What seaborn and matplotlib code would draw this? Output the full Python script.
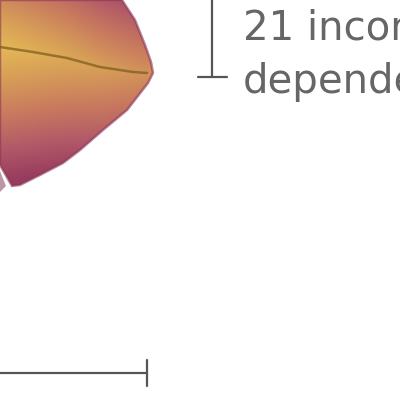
import numpy as np
import seaborn as sns
import matplotlib.pyplot as plt
from matplotlib.colors import LinearSegmentedColormap
from matplotlib.patches import Polygon

# outline of the visible piece of the shape (pixel coordinates, y downwards)
outline_x = [0, 122, 135, 145, 151, 153, 148, 127, 103, 80, 63, 40, 20, 12, 0]
outline_y = [0, 0, 20, 45, 62, 73, 83, 110, 130, 150, 163, 175, 185, 186, 165]
# small sliver left of the white gap
sliver_x = [0, 6, 0]
sliver_y = [171, 186, 192]
# crease running across the shape
crease_x = [0, 33, 67, 100, 133, 147]
crease_y = [47, 52, 58, 67, 72, 73]
# bracket on the right and scale bar at the bottom
bracket_x = [212, 212]
bracket_y = [0, 77]
bracket_foot_x = [198, 227]
bracket_foot_y = [77, 77]
scale_x = [0, 147]
scale_y = [373, 373]
scale_cap_x = [147, 147]
scale_cap_y = [360, 386]
label_lines = ["21 incoming", "dependencies"]
label_baselines = [40, 93]

sns.set_theme(style="white")
fig = plt.figure(figsize=(4, 4), dpi=100)
ax = fig.add_axes([0, 0, 1, 1])
ax.set_xlim(0, 400)
ax.set_ylim(400, 0)
ax.axis("off")

cmap = LinearSegmentedColormap.from_list(
    "skin", ["#973c5e", "#b25a68", "#c97a5e", "#d69c58", "#e4b856"])
gx, gy = np.meshgrid(np.arange(0, 160), np.arange(0, 200))
cy = np.interp(gx, crease_x, crease_y)
above = np.clip((cy - gy) / 130.0, 0, None)
below = np.clip((gy - cy) / 135.0, 0, None)
shade = np.clip(1 - above - below - gx / 450.0, 0, 1)
img = ax.imshow(shade, cmap=cmap, vmin=0, vmax=1, extent=(0, 160, 200, 0),
                interpolation="bilinear", aspect="auto")
body = Polygon(np.column_stack([outline_x, outline_y]), closed=True,
               facecolor="none", edgecolor="#8a3456", linewidth=1.8, alpha=0.6)
ax.add_patch(body)
img.set_clip_path(body)
ax.fill(sliver_x, sliver_y, color="#a46a80", alpha=0.7, linewidth=0)

sns.lineplot(x=crease_x, y=crease_y, sort=False, estimator=None, ax=ax,
             color="#7a5a1a", linewidth=1.8, alpha=0.7)

line_kw = dict(sort=False, estimator=None, ax=ax, color="#555555", linewidth=1.6)
sns.lineplot(x=bracket_x, y=bracket_y, **line_kw)
sns.lineplot(x=bracket_foot_x, y=bracket_foot_y, **line_kw)
sns.lineplot(x=scale_x, y=scale_y, **line_kw)
sns.lineplot(x=scale_cap_x, y=scale_cap_y, **line_kw)

for txt, yb in zip(label_lines, label_baselines):
    ax.text(243, yb, txt, fontsize=29, color="#666666", va="baseline",
            ha="left", family=["DejaVu Sans"])

ax.set_xlim(0, 400)
ax.set_ylim(400, 0)
fig.savefig("out.png", dpi=100)
